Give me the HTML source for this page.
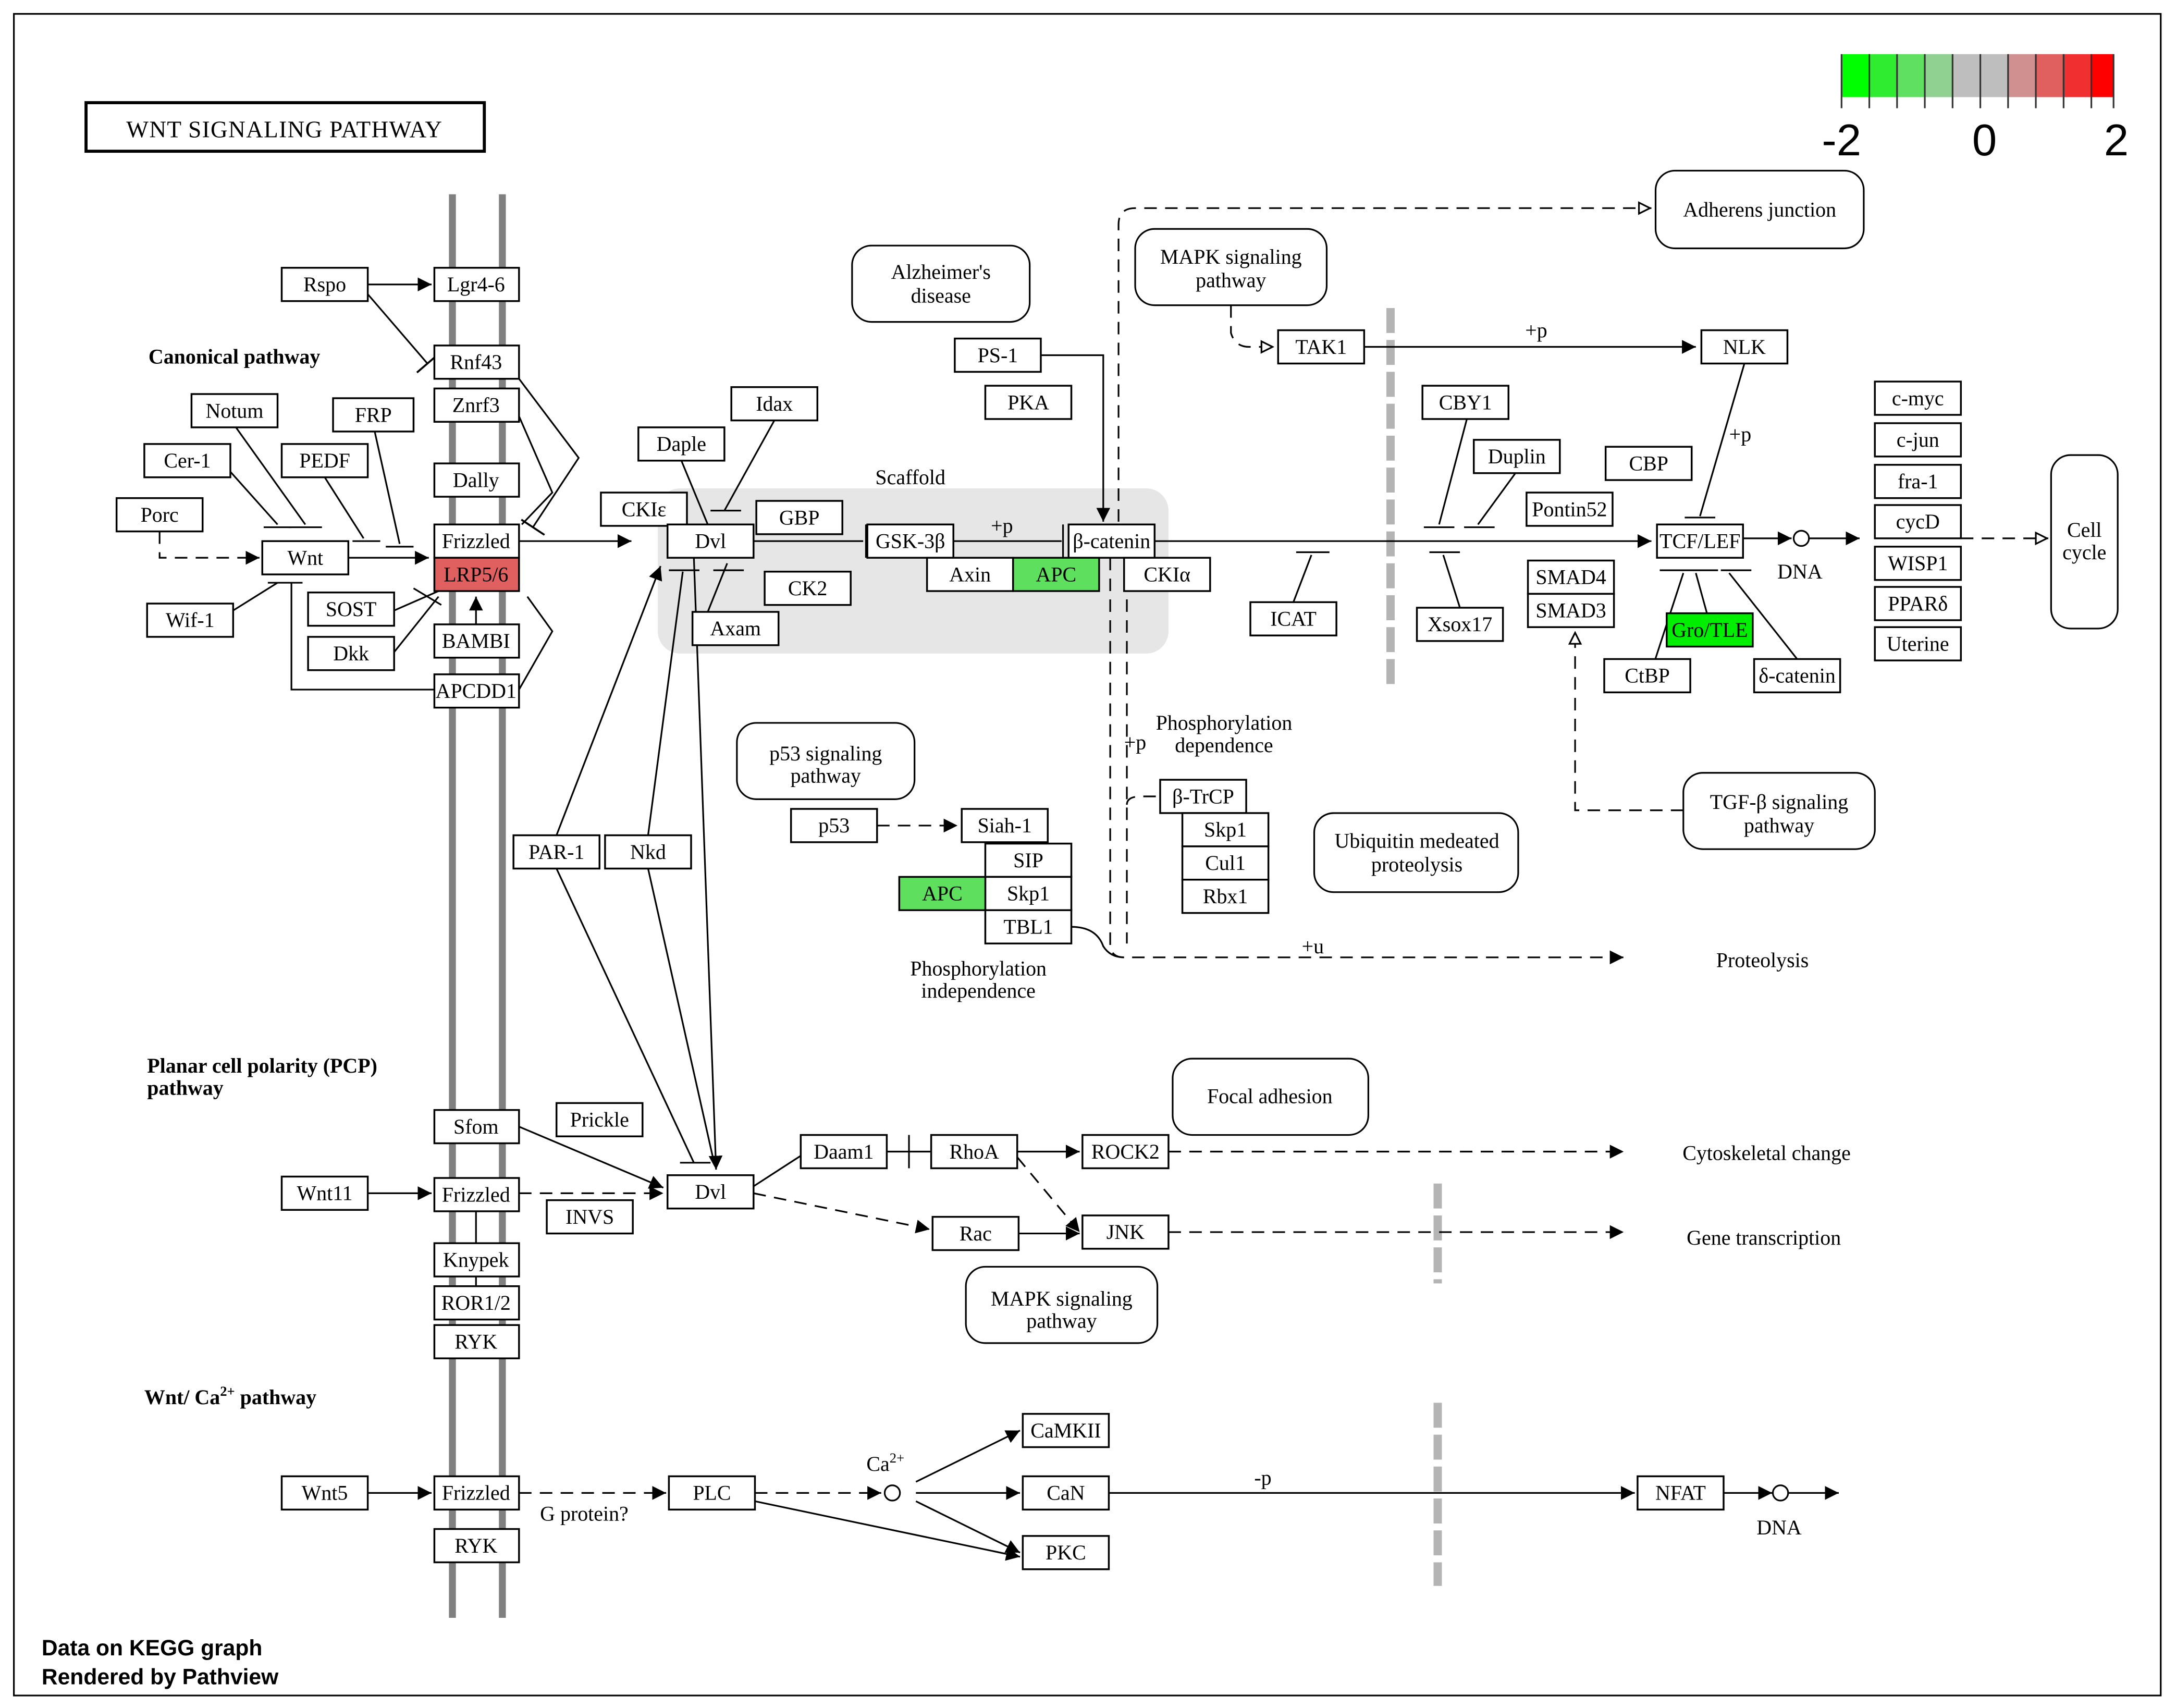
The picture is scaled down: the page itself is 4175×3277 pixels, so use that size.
<!DOCTYPE html>
<html><head><meta charset="utf-8"><style>
html,body{margin:0;padding:0;background:#fff;}
svg{display:block;}
.n rect{fill:#fff;stroke:#000;stroke-width:1.3;}
text{font-family:"Liberation Serif",serif;font-size:15px;fill:#000;}
.c{text-anchor:middle;}
.b{font-weight:bold;}
.l{stroke:#000;stroke-width:1.2;fill:none;}
.d{stroke:#000;stroke-width:1.2;fill:none;stroke-dasharray:9,6;}
.r{fill:#fff;stroke:#000;stroke-width:1.2;}
</style></head><body>
<svg width="4175" height="3277" viewBox="0 0 1568 1231" preserveAspectRatio="none" xmlns="http://www.w3.org/2000/svg">
<defs>
<marker id="a" viewBox="0 0 10 10" refX="10" refY="5" markerWidth="10" markerHeight="10" markerUnits="userSpaceOnUse" orient="auto"><path d="M0,0L10,5L0,10z" fill="#000"/></marker>
<marker id="o" viewBox="0 0 10 10" refX="10" refY="5" markerWidth="10" markerHeight="10" markerUnits="userSpaceOnUse" orient="auto"><path d="M1,1L9,5L1,9z" fill="#fff" stroke="#000" stroke-width="1.2"/></marker>
<marker id="t" viewBox="0 0 4 20" refX="2" refY="10" markerWidth="4" markerHeight="20" markerUnits="userSpaceOnUse" orient="auto"><path d="M2,0L2,20" stroke="#000" stroke-width="1.4"/></marker>
</defs>
<rect x="10" y="10" width="1547" height="1212" fill="none" stroke="#000" stroke-width="1.2"/>
<!-- legend -->
<g stroke="none">
<rect x="1327" y="39" width="20" height="31" fill="#00ff00"/>
<rect x="1347" y="39" width="20" height="31" fill="#30ec30"/>
<rect x="1367" y="39" width="20" height="31" fill="#60e060"/>
<rect x="1387" y="39" width="20" height="31" fill="#90d090"/>
<rect x="1407" y="39" width="40" height="31" fill="#bebebe"/>
<rect x="1447" y="39" width="20" height="31" fill="#d09090"/>
<rect x="1467" y="39" width="20" height="31" fill="#e06060"/>
<rect x="1487" y="39" width="20" height="31" fill="#f03030"/>
<rect x="1507" y="39" width="16" height="31" fill="#ff0000"/>
</g>
<g stroke="#333" stroke-width="1.2">
<path d="M1327,39V78M1347,39V78M1367,39V78M1387,39V78M1407,39V78M1427,39V78M1447,39V78M1467,39V78M1487,39V78M1507,39V78M1523,39V78"/>
</g>
<text x="1327" y="112" style="font-family:'Liberation Sans',sans-serif;font-size:32px" class="c">-2</text>
<text x="1430" y="112" style="font-family:'Liberation Sans',sans-serif;font-size:32px" class="c">0</text>
<text x="1525" y="112" style="font-family:'Liberation Sans',sans-serif;font-size:32px" class="c">2</text>
<!-- title -->
<rect x="62" y="74" width="287" height="35" fill="#fff" stroke="#000" stroke-width="2.2"/>
<text x="205" y="99" class="c" style="font-size:17px;letter-spacing:0.5px">WNT  SIGNALING  PATHWAY</text>
<!-- scaffold -->
<rect x="474" y="352" width="368" height="119" rx="16" fill="#e6e6e6"/>
<text x="656" y="349" class="c">Scaffold</text>
<!-- membrane -->
<path d="M326,140V1166M362,140V1166" stroke="#808080" stroke-width="5"/>
<!-- dashed gray bars -->
<path d="M1002,222V497M1036,853V925M1036,1011V1143" stroke="#b4b4b4" stroke-width="6" stroke-dasharray="18,5"/>
<!-- labels -->
<text x="107" y="262" class="b">Canonical pathway</text>
<text x="106" y="773" class="b">Planar cell polarity (PCP)</text>
<text x="106" y="789" class="b">pathway</text>
<text x="104" y="1012" class="b">Wnt/ Ca<tspan dy="-6" style="font-size:10px">2+</tspan><tspan dy="6"> pathway</tspan></text>
<text x="30" y="1193" style="font-family:'Liberation Sans',sans-serif;font-size:16px;font-weight:bold">Data on KEGG graph</text>
<text x="30" y="1214" style="font-family:'Liberation Sans',sans-serif;font-size:16px;font-weight:bold">Rendered by Pathview</text>

<!-- edges -->
<g class="l">
<path d="M265,205H311" marker-end="url(#a)"/>
<path d="M265,212L308,262" marker-end="url(#t)"/>
<path d="M374,273L417,330L384,380" marker-end="url(#t)"/>
<path d="M374,300L398,355L376,378"/>
<path d="M170,308L220,378" /><path d="M208,380H232"/>
<path d="M166,340L200,378"/><path d="M190,380H210"/>
<path d="M234,344L262,388"/><path d="M254,390H274"/>
<path d="M270,311L288,392"/><path d="M278,394H298"/>
<path d="M251,402H309" marker-end="url(#a)"/>
<path d="M168,440L200,420"/><path d="M193,420H218"/>
<path d="M210,420V497H313"/>
<path d="M284,440L316,426"/><path d="M284,470L316,430"/>
<path d="M298,424L318,436"/>
<path d="M343,450V430" marker-end="url(#a)"/>
<path d="M374,497L398,455L380,430"/>
<path d="M374,390H455" marker-end="url(#a)"/>
<path d="M491,332L510,378"/>
<path d="M558,303L522,368"/><path d="M512,368H534"/>
<path d="M543,390H622"/><path d="M624,378V402"/>
<path d="M687,390H765"/><path d="M766,378V402"/>
<path d="M750,256H795V376" marker-end="url(#a)"/>
<path d="M832,390H1190" marker-end="url(#a)"/>
<path d="M932,434L945,400"/><path d="M934,398H958"/>
<path d="M1057,302L1037,378"/><path d="M1026,380H1048"/>
<path d="M1092,341L1065,378"/><path d="M1055,380H1077"/>
<path d="M1052,438L1040,400"/><path d="M1030,398H1052"/>
<path d="M983,250H1222" marker-end="url(#a)"/>
<path d="M1257,262L1225,372"/><path d="M1214,373H1236"/>
<path d="M1256,388H1291" marker-end="url(#a)"/>
<path d="M1303,388H1340" marker-end="url(#a)"/>
<path d="M1185,499L1213,413"/><path d="M1230,442L1222,413"/><path d="M1295,475L1246,413"/>
<path d="M1196,411H1220M1214,411H1238M1240,411H1262"/>
<path d="M401,602L476,408" marker-end="url(#a)"/>
<path d="M467,602L492,412"/><path d="M482,411H504"/>
<path d="M500,402L516,843" marker-end="url(#a)"/>
<path d="M401,626L500,838"/><path d="M490,838H512"/>
<path d="M467,626L515,840"/>
<path d="M524,406L510,441"/><path d="M514,411H536"/>
<path d="M772,668Q790,668 795,682Q800,690 810,690"/>
<path d="M265,860H311" marker-end="url(#a)"/>
<path d="M374,812L478,856" marker-end="url(#a)"/>
<path d="M543,855L577,833"/>
<path d="M639,830H671"/><path d="M655,818V842"/>
<path d="M733,830H778" marker-end="url(#a)"/>
<path d="M734,889H778" marker-end="url(#a)"/>
<path d="M265,1076H311" marker-end="url(#a)"/>
<path d="M660,1068L735,1031" marker-end="url(#a)"/>
<path d="M660,1076H735" marker-end="url(#a)"/>
<path d="M660,1082L735,1119" marker-end="url(#a)"/>
<path d="M544,1082L735,1122" marker-end="url(#a)"/>
<path d="M799,1076H1178" marker-end="url(#a)"/>
<path d="M1242,1076H1277" marker-end="url(#a)"/>
<path d="M1289,1076H1325" marker-end="url(#a)"/>
<path d="M343,402V378M343,873V896M343,920V927"/>
</g>
<g class="d">
<path d="M115,383V402H187" marker-end="url(#a)"/>
<path d="M1413,388H1476" marker-end="url(#o)"/>
<path d="M1213,584H1135V455" marker-end="url(#o)"/>
<path d="M887,220V240Q890,250 900,250H918" marker-end="url(#o)"/>
<path d="M806,376V162Q806,150 818,150H1190" marker-end="url(#o)"/>
<path d="M800,402V680Q800,690 810,690H1170" marker-end="url(#a)"/>
<path d="M812,402V680"/>
<path d="M812,580Q812,574 822,574H836"/>
<path d="M632,595H690" marker-end="url(#a)"/>
<path d="M374,860H478" marker-end="url(#a)"/>
<path d="M543,860L670,886" marker-end="url(#a)"/>
<path d="M733,834L778,888" marker-end="url(#a)"/>
<path d="M842,830H1170" marker-end="url(#a)"/>
<path d="M842,888H1170" marker-end="url(#a)"/>
<path d="M374,1076H480" marker-end="url(#a)"/>
<path d="M544,1076H635" marker-end="url(#a)"/>
</g>
<circle cx="1298" cy="388" r="5.5" class="r"/>
<circle cx="643" cy="1076" r="5.5" class="r"/>
<circle cx="1283" cy="1076" r="5.5" class="r"/>
<text x="722" y="384" class="c">+p</text>
<text x="1107" y="243" class="c">+p</text>
<text x="1254" y="318" class="c">+p</text>
<text x="818" y="540" class="c">+p</text>
<text x="946" y="687" class="c">+u</text>
<text x="910" y="1070" class="c">-p</text>
<text x="1297" y="417" class="c">DNA</text>
<text x="1282" y="1106" class="c">DNA</text>
<text x="638" y="1060" class="c">Ca<tspan dy="-6" style="font-size:10px">2+</tspan></text>
<text x="421" y="1096" class="c">G protein?</text>
<text x="705" y="703" class="c">Phosphorylation</text>
<text x="705" y="719" class="c">independence</text>
<text x="882" y="526" class="c">Phosphorylation</text>
<text x="882" y="542" class="c">dependence</text>
<text x="1270" y="697" class="c">Proteolysis</text>
<text x="1273" y="836" class="c">Cytoskeletal change</text>
<text x="1271" y="897" class="c">Gene transcription</text>

<!-- rounded map boxes -->
<g class="r">
<rect x="614" y="177" width="128" height="55" rx="14"/>
<rect x="818" y="165" width="138" height="55" rx="14"/>
<rect x="1193" y="123" width="150" height="56" rx="14"/>
<rect x="1478" y="328" width="48" height="125" rx="14"/>
<rect x="531" y="521" width="128" height="55" rx="14"/>
<rect x="947" y="586" width="147" height="57" rx="14"/>
<rect x="1213" y="557" width="138" height="55" rx="14"/>
<rect x="845" y="763" width="141" height="55" rx="14"/>
<rect x="696" y="913" width="138" height="55" rx="14"/>
</g>
<text x="678" y="201" class="c">Alzheimer's</text><text x="678" y="218" class="c">disease</text>
<text x="887" y="190" class="c">MAPK signaling</text><text x="887" y="207" class="c">pathway</text>
<text x="1268" y="156" class="c">Adherens junction</text>
<text x="1502" y="387" class="c">Cell</text><text x="1502" y="403" class="c">cycle</text>
<text x="595" y="548" class="c">p53 signaling</text><text x="595" y="564" class="c">pathway</text>
<text x="1021" y="611" class="c">Ubiquitin medeated</text><text x="1021" y="628" class="c">proteolysis</text>
<text x="1282" y="583" class="c">TGF-β signaling</text><text x="1282" y="600" class="c">pathway</text>
<text x="915" y="795" class="c">Focal adhesion</text>
<text x="765" y="941" class="c">MAPK signaling</text><text x="765" y="957" class="c">pathway</text>

<!-- nodes -->
<g class="n">
<rect x="203" y="193" width="62" height="24"/>
<rect x="313" y="193" width="61" height="24"/>
<rect x="313" y="249" width="61" height="24"/>
<rect x="313" y="280" width="61" height="24"/>
<rect x="313" y="334" width="61" height="24"/>
<rect x="313" y="378" width="61" height="24"/>
<rect x="313" y="402" width="61" height="24" style="fill:#e06060"/>
<rect x="313" y="450" width="61" height="24"/>
<rect x="313" y="486" width="61" height="24"/>
<rect x="138" y="284" width="62" height="24"/>
<rect x="240" y="287" width="58" height="24"/>
<rect x="104" y="320" width="62" height="24"/>
<rect x="203" y="320" width="62" height="24"/>
<rect x="84" y="359" width="62" height="24"/>
<rect x="189" y="390" width="62" height="24"/>
<rect x="106" y="435" width="62" height="24"/>
<rect x="222" y="427" width="62" height="24"/>
<rect x="222" y="459" width="62" height="24"/>
<rect x="460" y="308" width="62" height="24"/>
<rect x="527" y="279" width="62" height="24"/>
<rect x="433" y="355" width="62" height="24"/>
<rect x="481" y="378" width="62" height="24"/>
<rect x="545" y="361" width="62" height="24"/>
<rect x="499" y="441" width="62" height="24"/>
<rect x="551" y="412" width="62" height="24"/>
<rect x="625" y="378" width="62" height="24"/>
<rect x="770" y="378" width="62" height="24"/>
<rect x="668" y="402" width="62" height="24"/>
<rect x="730" y="402" width="62" height="24" style="fill:#5ee05e"/>
<rect x="810" y="402" width="62" height="24"/>
<rect x="688" y="244" width="62" height="24"/>
<rect x="710" y="278" width="62" height="24"/>
<rect x="921" y="238" width="62" height="24"/>
<rect x="1226" y="238" width="62" height="24"/>
<rect x="1025" y="278" width="62" height="24"/>
<rect x="1062" y="317" width="62" height="24"/>
<rect x="1157" y="322" width="62" height="24"/>
<rect x="1100" y="355" width="62" height="24"/>
<rect x="901" y="434" width="62" height="24"/>
<rect x="1021" y="438" width="62" height="24"/>
<rect x="1101" y="404" width="62" height="24"/>
<rect x="1101" y="428" width="62" height="24"/>
<rect x="1194" y="378" width="62" height="24"/>
<rect x="1201" y="442" width="62" height="24" style="fill:#00ee00"/>
<rect x="1156" y="475" width="62" height="24"/>
<rect x="1264" y="475" width="62" height="24"/>
<rect x="1351" y="275" width="62" height="24"/>
<rect x="1351" y="305" width="62" height="24"/>
<rect x="1351" y="335" width="62" height="24"/>
<rect x="1351" y="364" width="62" height="24"/>
<rect x="1351" y="394" width="62" height="24"/>
<rect x="1351" y="423" width="62" height="24"/>
<rect x="1351" y="452" width="62" height="24"/>
<rect x="570" y="583" width="62" height="24"/>
<rect x="693" y="583" width="62" height="24"/>
<rect x="710" y="608" width="62" height="24"/>
<rect x="710" y="632" width="62" height="24"/>
<rect x="648" y="632" width="62" height="24" style="fill:#5ee05e"/>
<rect x="710" y="656" width="62" height="24"/>
<rect x="836" y="562" width="62" height="24"/>
<rect x="852" y="586" width="62" height="24"/>
<rect x="852" y="610" width="62" height="24"/>
<rect x="852" y="634" width="62" height="24"/>
<rect x="370" y="602" width="62" height="24"/>
<rect x="436" y="602" width="62" height="24"/>
<rect x="313" y="800" width="61" height="24"/>
<rect x="401" y="795" width="62" height="24"/>
<rect x="203" y="848" width="62" height="24"/>
<rect x="313" y="849" width="61" height="24"/>
<rect x="394" y="865" width="62" height="24"/>
<rect x="481" y="847" width="62" height="24"/>
<rect x="313" y="896" width="61" height="24"/>
<rect x="313" y="927" width="61" height="24"/>
<rect x="313" y="955" width="61" height="24"/>
<rect x="577" y="818" width="62" height="24"/>
<rect x="671" y="818" width="62" height="24"/>
<rect x="780" y="818" width="62" height="24"/>
<rect x="672" y="877" width="62" height="24"/>
<rect x="780" y="876" width="62" height="24"/>
<rect x="203" y="1064" width="62" height="24"/>
<rect x="313" y="1064" width="61" height="24"/>
<rect x="313" y="1102" width="61" height="24"/>
<rect x="482" y="1064" width="62" height="24"/>
<rect x="737" y="1019" width="62" height="24"/>
<rect x="737" y="1064" width="62" height="24"/>
<rect x="737" y="1107" width="62" height="24"/>
<rect x="1180" y="1064" width="62" height="24"/>
</g>
<g class="c">
<text x="234" y="210">Rspo</text>
<text x="343" y="210">Lgr4-6</text>
<text x="343" y="266">Rnf43</text>
<text x="343" y="297">Znrf3</text>
<text x="343" y="351">Dally</text>
<text x="343" y="395">Frizzled</text>
<text x="343" y="419">LRP5/6</text>
<text x="343" y="467">BAMBI</text>
<text x="343" y="503">APCDD1</text>
<text x="169" y="301">Notum</text>
<text x="269" y="304">FRP</text>
<text x="135" y="337">Cer-1</text>
<text x="234" y="337">PEDF</text>
<text x="115" y="376">Porc</text>
<text x="220" y="407">Wnt</text>
<text x="137" y="452">Wif-1</text>
<text x="253" y="444">SOST</text>
<text x="253" y="476">Dkk</text>
<text x="491" y="325">Daple</text>
<text x="558" y="296">Idax</text>
<text x="464" y="372">CKIε</text>
<text x="512" y="395">Dvl</text>
<text x="576" y="378">GBP</text>
<text x="530" y="458">Axam</text>
<text x="582" y="429">CK2</text>
<text x="656" y="395">GSK-3β</text>
<text x="801" y="395">β-catenin</text>
<text x="699" y="419">Axin</text>
<text x="761" y="419">APC</text>
<text x="841" y="419">CKIα</text>
<text x="719" y="261">PS-1</text>
<text x="741" y="295">PKA</text>
<text x="952" y="255">TAK1</text>
<text x="1257" y="255">NLK</text>
<text x="1056" y="295">CBY1</text>
<text x="1093" y="334">Duplin</text>
<text x="1188" y="339">CBP</text>
<text x="1131" y="372">Pontin52</text>
<text x="932" y="451">ICAT</text>
<text x="1052" y="455">Xsox17</text>
<text x="1132" y="421">SMAD4</text>
<text x="1132" y="445">SMAD3</text>
<text x="1225" y="395">TCF/LEF</text>
<text x="1232" y="459">Gro/TLE</text>
<text x="1187" y="492">CtBP</text>
<text x="1295" y="492">δ-catenin</text>
<text x="1382" y="292">c-myc</text>
<text x="1382" y="322">c-jun</text>
<text x="1382" y="352">fra-1</text>
<text x="1382" y="381">cycD</text>
<text x="1382" y="411">WISP1</text>
<text x="1382" y="440">PPARδ</text>
<text x="1382" y="469">Uterine</text>
<text x="601" y="600">p53</text>
<text x="724" y="600">Siah-1</text>
<text x="741" y="625">SIP</text>
<text x="741" y="649">Skp1</text>
<text x="679" y="649">APC</text>
<text x="741" y="673">TBL1</text>
<text x="867" y="579">β-TrCP</text>
<text x="883" y="603">Skp1</text>
<text x="883" y="627">Cul1</text>
<text x="883" y="651">Rbx1</text>
<text x="401" y="619">PAR-1</text>
<text x="467" y="619">Nkd</text>
<text x="343" y="817">Sfom</text>
<text x="432" y="812">Prickle</text>
<text x="234" y="865">Wnt11</text>
<text x="343" y="866">Frizzled</text>
<text x="425" y="882">INVS</text>
<text x="512" y="864">Dvl</text>
<text x="343" y="913">Knypek</text>
<text x="343" y="944">ROR1/2</text>
<text x="343" y="972">RYK</text>
<text x="608" y="835">Daam1</text>
<text x="702" y="835">RhoA</text>
<text x="811" y="835">ROCK2</text>
<text x="703" y="894">Rac</text>
<text x="811" y="893">JNK</text>
<text x="234" y="1081">Wnt5</text>
<text x="343" y="1081">Frizzled</text>
<text x="343" y="1119">RYK</text>
<text x="513" y="1081">PLC</text>
<text x="768" y="1036">CaMKII</text>
<text x="768" y="1081">CaN</text>
<text x="768" y="1124">PKC</text>
<text x="1211" y="1081">NFAT</text>
</g>
</svg>
</body></html>
